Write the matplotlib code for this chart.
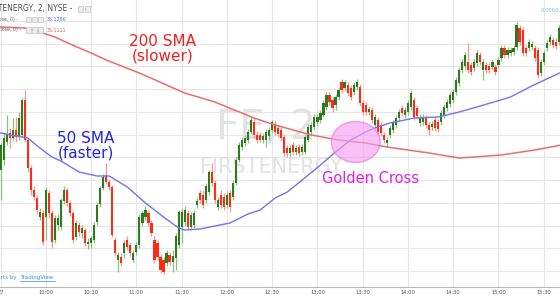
import numpy as np
import matplotlib
matplotlib.use('Agg')
import matplotlib.pyplot as plt
import matplotlib.patches as patches
from matplotlib.lines import Line2D

# FirstEnergy, 2 minute bars from the open (9:30) to about 15:40
opens = np.array([
    34.30, 34.40, 34.58, 34.67, 34.62, 34.70, 34.64, 34.65, 35.00, 34.60,
    34.32, 34.10, 34.02, 33.83, 33.87, 33.83, 34.07, 33.87, 33.60, 33.75,
    33.73, 33.99, 34.10, 33.97, 33.87, 33.63, 33.75, 33.67, 33.70, 33.56,
    33.57, 33.60, 33.78, 33.96, 34.12, 34.25, 34.18, 34.13, 33.60, 33.40,
    33.43, 33.47, 33.60, 33.55, 33.40, 33.48, 33.55, 33.77, 33.83, 33.87,
    33.77, 33.60, 33.57, 33.43, 33.40, 33.37, 33.45, 33.38, 33.42, 33.55,
    33.73, 33.78, 33.87, 33.73, 33.75, 33.95, 34.07, 34.05, 34.00, 34.08,
    34.28, 34.17, 33.93, 34.05, 34.03, 33.95, 34.07, 34.03, 34.17, 34.40,
    34.53, 34.57, 34.60, 34.68, 34.78, 34.65, 34.65, 34.60, 34.60, 34.64,
    34.70, 34.76, 34.72, 34.70, 34.63, 34.52, 34.47, 34.55, 34.48, 34.53,
    34.48, 34.48, 34.60, 34.68, 34.73, 34.78, 34.80, 34.85, 34.93, 35.05,
    35.00, 34.95, 35.03, 35.18, 35.12, 35.15, 35.12, 35.08, 35.13, 35.13,
    34.97, 34.95, 34.88, 34.90, 34.75, 34.80, 34.75, 34.65, 34.57, 34.65,
    34.70, 34.75, 34.82, 34.92, 34.85, 34.88, 34.93, 35.00, 34.92, 34.77,
    34.78, 34.82, 34.75, 34.73, 34.80, 34.78, 34.78, 34.85, 34.92, 34.96,
    35.00, 35.08, 35.17, 35.30, 35.34, 35.38, 35.35, 35.32, 35.37, 35.45,
    35.30, 35.35, 35.34, 35.33, 35.33, 35.35, 35.42, 35.52, 35.45, 35.47,
    35.48, 35.53, 35.72, 35.70, 35.52, 35.52, 35.53, 35.52, 35.50, 35.27,
    35.38, 35.52, 35.58, 35.60, 35.58, 35.58])
closes = np.array([
    34.55, 34.62, 34.66, 34.62, 34.70, 34.63, 34.82, 35.00, 34.60, 34.32,
    34.10, 34.03, 33.90, 33.88, 33.58, 34.10, 33.87, 33.58, 33.82, 33.82,
    34.00, 34.10, 33.97, 33.87, 33.60, 33.77, 33.68, 33.72, 33.57, 33.58,
    33.62, 33.75, 33.95, 34.12, 34.23, 34.18, 34.13, 33.65, 33.47, 33.45,
    33.37, 33.57, 33.53, 33.47, 33.47, 33.55, 33.83, 33.87, 33.90, 33.77,
    33.67, 33.40, 33.43, 33.30, 33.28, 33.47, 33.38, 33.44, 33.64, 33.88,
    33.88, 33.90, 33.73, 33.85, 33.87, 33.99, 34.00, 33.95, 34.14, 34.28,
    34.17, 34.00, 34.00, 33.95, 33.93, 34.05, 33.93, 34.17, 34.40, 34.55,
    34.60, 34.62, 34.68, 34.80, 34.65, 34.60, 34.60, 34.64, 34.68, 34.70,
    34.78, 34.68, 34.66, 34.62, 34.47, 34.47, 34.52, 34.48, 34.52, 34.47,
    34.53, 34.63, 34.73, 34.75, 34.83, 34.83, 34.87, 34.97, 35.05, 34.98,
    34.92, 35.03, 35.10, 35.10, 35.18, 35.07, 35.03, 35.15, 35.18, 34.97,
    34.88, 34.88, 34.91, 34.80, 34.83, 34.68, 34.67, 34.60, 34.60, 34.72,
    34.77, 34.82, 34.88, 34.87, 34.90, 34.97, 35.07, 34.83, 34.84, 34.83,
    34.83, 34.75, 34.70, 34.76, 34.72, 34.71, 34.87, 34.93, 34.98, 35.05,
    35.08, 35.20, 35.30, 35.38, 35.45, 35.30, 35.28, 35.38, 35.47, 35.38,
    35.38, 35.30, 35.30, 35.38, 35.28, 35.40, 35.52, 35.45, 35.50, 35.50,
    35.52, 35.75, 35.58, 35.47, 35.47, 35.58, 35.56, 35.42, 35.25, 35.38,
    35.47, 35.57, 35.63, 35.55, 35.54, 35.72])
highs = np.array([
    34.57, 34.67, 34.85, 34.72, 34.82, 34.83, 34.88, 35.02, 35.10, 34.62,
    34.35, 34.14, 34.05, 33.92, 33.90, 34.13, 34.10, 33.90, 33.85, 33.86,
    34.02, 34.14, 34.12, 34.00, 33.89, 33.80, 33.78, 33.75, 33.72, 33.62,
    33.64, 33.78, 33.98, 34.14, 34.26, 34.37, 34.21, 34.15, 33.63, 33.48,
    33.47, 33.60, 33.64, 33.58, 33.50, 33.58, 33.86, 33.90, 33.94, 33.90,
    33.80, 33.64, 33.60, 33.46, 33.43, 33.50, 33.48, 33.50, 33.67, 33.90,
    33.92, 33.94, 33.90, 33.88, 33.90, 34.02, 34.10, 34.10, 34.17, 34.30,
    34.37, 34.20, 34.03, 34.10, 34.07, 34.08, 34.10, 34.20, 34.43, 34.58,
    34.63, 34.65, 34.71, 34.83, 34.82, 34.69, 34.68, 34.67, 34.71, 34.73,
    34.80, 34.80, 34.75, 34.73, 34.66, 34.55, 34.55, 34.58, 34.55, 34.56,
    34.56, 34.66, 34.76, 34.78, 34.86, 34.86, 34.90, 35.00, 35.08, 35.08,
    35.03, 35.06, 35.13, 35.21, 35.20, 35.18, 35.15, 35.18, 35.21, 35.16,
    35.00, 34.98, 34.94, 34.93, 34.86, 34.83, 34.78, 34.68, 34.63, 34.75,
    34.80, 34.85, 34.91, 34.95, 34.93, 35.00, 35.10, 35.03, 34.95, 34.86,
    34.86, 34.85, 34.78, 34.79, 34.83, 34.81, 34.90, 34.96, 35.01, 35.08,
    35.11, 35.23, 35.33, 35.41, 35.48, 35.57, 35.38, 35.41, 35.50, 35.48,
    35.41, 35.38, 35.37, 35.41, 35.36, 35.43, 35.55, 35.55, 35.53, 35.53,
    35.55, 35.78, 35.75, 35.73, 35.55, 35.61, 35.59, 35.55, 35.53, 35.41,
    35.50, 35.60, 35.66, 35.63, 35.62, 35.75])
lows = np.array([
    34.00, 34.35, 34.55, 34.52, 34.60, 34.58, 34.60, 34.63, 34.58, 34.28,
    34.05, 34.00, 33.86, 33.80, 33.55, 33.60, 33.82, 33.52, 33.57, 33.70,
    33.70, 33.96, 33.94, 33.84, 33.57, 33.60, 33.64, 33.62, 33.54, 33.51,
    33.52, 33.57, 33.75, 33.93, 34.10, 34.16, 34.10, 33.63, 33.44, 33.28,
    33.34, 33.42, 33.50, 33.44, 33.38, 33.45, 33.52, 33.74, 33.80, 33.74,
    33.64, 33.37, 33.40, 33.27, 33.26, 33.34, 33.35, 33.28, 33.30, 33.52,
    33.57, 33.74, 33.70, 33.70, 33.72, 33.92, 33.97, 33.92, 33.97, 34.05,
    34.14, 33.97, 33.90, 33.92, 33.90, 33.92, 33.88, 34.00, 34.15, 34.38,
    34.50, 34.54, 34.57, 34.66, 34.62, 34.57, 34.58, 34.57, 34.53, 34.60,
    34.67, 34.65, 34.63, 34.59, 34.44, 34.43, 34.43, 34.45, 34.45, 34.44,
    34.45, 34.46, 34.58, 34.65, 34.70, 34.75, 34.77, 34.83, 34.90, 34.95,
    34.88, 34.90, 35.00, 35.07, 35.09, 35.04, 35.00, 35.05, 35.10, 34.94,
    34.85, 34.85, 34.85, 34.77, 34.72, 34.65, 34.64, 34.57, 34.53, 34.62,
    34.67, 34.72, 34.79, 34.84, 34.82, 34.85, 34.90, 34.80, 34.81, 34.74,
    34.75, 34.72, 34.65, 34.70, 34.69, 34.68, 34.75, 34.82, 34.89, 34.93,
    34.97, 35.05, 35.14, 35.27, 35.31, 35.27, 35.25, 35.29, 35.34, 35.35,
    35.20, 35.27, 35.27, 35.30, 35.25, 35.32, 35.39, 35.42, 35.42, 35.44,
    35.45, 35.50, 35.55, 35.44, 35.44, 35.49, 35.50, 35.39, 35.22, 35.24,
    35.35, 35.49, 35.55, 35.52, 35.51, 35.55])
bars = np.arange(len(closes))

# moving averages, read at a few bars along each line
sma200_bar = [0, 8, 13, 18, 23, 30, 35, 46, 61, 71, 84, 91, 103, 112, 121, 128, 142, 152, 166, 177, 186]
sma200 = [35.73, 35.72, 35.68, 35.63, 35.56, 35.47, 35.40, 35.27, 35.07, 34.98, 34.82, 34.75,
          34.65, 34.60, 34.57, 34.53, 34.47, 34.42, 34.45, 34.50, 34.55]
sma50_bar = [0, 7, 9, 13, 17, 20, 26, 32, 36, 42, 48, 54, 59, 61, 66, 76, 82, 86, 91, 95,
             100, 106, 111, 116, 121, 124, 129, 134, 137, 145, 152, 159, 169, 176, 186]
sma50 = [34.67, 34.63, 34.62, 34.52, 34.43, 34.39, 34.28, 34.24, 34.24, 34.13, 33.97, 33.83,
         33.72, 33.70, 33.71, 33.77, 33.86, 33.90, 34.02, 34.08, 34.20, 34.35, 34.48, 34.60,
         34.68, 34.72, 34.77, 34.80, 34.82, 34.83, 34.88, 34.94, 35.03, 35.14, 35.28]

tick_bars = [0, 15, 30, 45, 60, 75, 90, 105, 120, 135, 150, 165, 180]
tick_labels = ['27', '10:00', '10:30', '11:00', '11:30', '12:00', '12:30',
               '13:00', '13:30', '14:00', '14:30', '15:00', '15:30']

W, H = 560, 297


def px(x, y):
    # figure pixel -> figure fraction
    return x / W, 1 - y / H


fig = plt.figure(figsize=(W / 100, H / 100), dpi=100)
fig.patch.set_facecolor('white')
ax = fig.add_axes([0, 10 / H, 1, 287 / H])
ax.set_xlim(-0.2, 185.4)
ax.set_ylim(33.13, 36.00)

ax.set_axisbelow(True)
ax.set_yticks(np.linspace(33.29, 35.79, 12))
ax.set_xticks(tick_bars)
ax.set_xticklabels(tick_labels)
ax.tick_params(axis='y', length=0, labelleft=False)
ax.tick_params(axis='x', length=0, pad=2.2, labelsize=3.7, labelcolor='#555555')
ax.grid(True, color='#e6e6e6', lw=0.8)
for s in ['top', 'left', 'right']:
    ax.spines[s].set_visible(False)
ax.spines['bottom'].set_color('#b8b8b8')
ax.spines['bottom'].set_linewidth(0.8)

# watermark
ax.text(87.8, 34.72, 'FE, 2', fontsize=29, color='#e2e2e2', ha='center', va='center', zorder=1)
ax.text(89.8, 34.33, 'FIRSTENERGY', fontsize=15, color='#e2e2e2', ha='center', va='center', zorder=1)

# candles
up = closes >= opens
body_col = np.where(up, '#2f7a1f', '#ff2b17')
wick_col = np.where(up, '#8fbf80', '#f7988d')
ax.vlines(bars, lows, highs, colors=wick_col, lw=0.9, zorder=2)
ax.bar(bars, closes - opens, bottom=opens, width=0.72, color=body_col, linewidth=0, zorder=3)

ax.plot(sma200_bar, sma200, color='#ee6b6b', lw=1.1, zorder=4)
ax.plot(sma50_bar, sma50, color='#7373f3', lw=1.0, zorder=4)

ell = patches.Ellipse((117.7, 34.58), 16.2, 0.41, fc='#f5a0f0', ec='#e276e0',
                      alpha=0.65, lw=1, zorder=5)
ax.add_patch(ell)

ax.text(53.7, 35.59, '200 SMA', fontsize=11, color='#f02020', ha='center', va='center', zorder=6)
ax.text(53.7, 35.44, '(slower)', fontsize=11, color='#f02020', ha='center', va='center', zorder=6)
ax.text(28.2, 34.62, '50 SMA', fontsize=11, color='#2525e0', ha='center', va='center', zorder=6)
ax.text(28.2, 34.47, '(faster)', fontsize=11, color='#2525e0', ha='center', va='center', zorder=6)
ax.text(122.6, 34.22, 'Golden Cross', fontsize=10.5, color='#e020e0', ha='center', va='center', zorder=6)

# TradingView header and footer bits
fig.text(*px(72, 9), 'FIRSTENERGY, 2, NYSE -', fontsize=5.5, color='#505050', ha='right', va='center')
fig.text(*px(18, 19.5), 'SMA (50, close, 0) -', fontsize=3.4, color='#666666', ha='right', va='center')
fig.text(*px(21, 30), 'SMA (200, close, 0) -', fontsize=3.4, color='#666666', ha='right', va='center')
fig.text(*px(66, 19.5), '35.1286', fontsize=3.4, color='#4f6ee8', ha='right', va='center')
fig.text(*px(66, 30), '35.1111', fontsize=3.4, color='#ef5b5b', ha='right', va='center')
for bx, by in [(78, 6.5), (85, 6.5), (26, 17), (32, 17), (38, 17), (26, 27.5), (32, 27.5), (38, 27.5)]:
    x0, y0 = px(bx, by + 5)
    fig.add_artist(patches.Rectangle((x0, y0), 5 / W, 5 / H, transform=fig.transFigure,
                                     fc='#ececec', ec='#c4c4c4', lw=0.5))
fig.text(*px(541, 10), '0.0060.0', fontsize=3.8, color='#72c2da', ha='left', va='center')

fig.text(*px(16, 277), 'Charts by', fontsize=4, color='#3d8fd0', ha='right', va='center')
fig.text(*px(20, 277), 'TradingView', fontsize=4, color='#3d8fd0', ha='left', va='center')
fig.add_artist(Line2D([20 / W, 55 / W], [1 - 280.5 / H] * 2, transform=fig.transFigure,
                      color='#3d8fd0', lw=0.5))

fig.savefig('out.png', dpi=100)
